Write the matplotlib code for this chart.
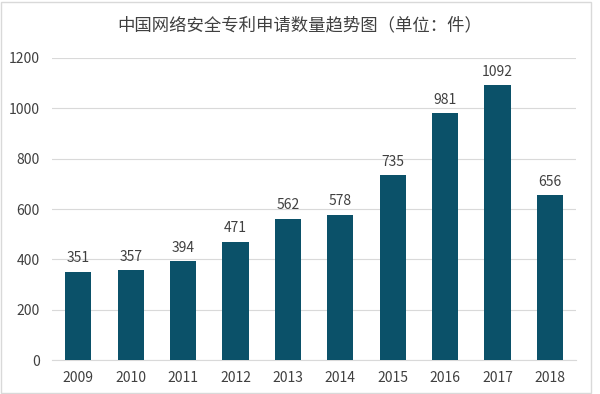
import matplotlib.pyplot as plt
from matplotlib.patches import Rectangle

plt.rcParams['font.family'] = ['Noto Sans CJK SC', 'DejaVu Sans']

years = ['2009', '2010', '2011', '2012', '2013', '2014', '2015', '2016', '2017', '2018']
counts = [351, 357, 394, 471, 562, 578, 735, 981, 1092, 656]

fig = plt.figure(figsize=(6, 3.94), dpi=100)
ax = fig.add_axes([0.087, 0.086, 0.873, 0.767])

bars = ax.bar(years, counts, width=0.5, color='#0b5169', zorder=3)
for b, v in zip(bars, counts):
    ax.text(b.get_x() + b.get_width() / 2, v + 25, str(v), ha='center', va='bottom',
            fontsize=10, color='#404040')

ax.set_ylim(0, 1200)
ax.set_yticks(range(0, 1201, 200))
ax.set_xlim(-0.5, 9.5)
ax.grid(axis='y', color='#d9d9d9', linewidth=0.8, zorder=0)
for s in ['top', 'right', 'left']:
    ax.spines[s].set_visible(False)
ax.spines['bottom'].set_color('#d9d9d9')
ax.tick_params(length=0, labelsize=10, colors='#404040')
ax.tick_params(axis='x', pad=8)
ax.tick_params(axis='y', pad=9)

fig.text(0.5, 0.935, '中国网络安全专利申请数量趋势图（单位：件）', ha='center', va='center',
         fontsize=12.5, color='#404040')
fig.patches.append(Rectangle((0.002, 0.002), 0.983, 0.994, transform=fig.transFigure,
                             fill=False, edgecolor='#d9d9d9', linewidth=1))

plt.savefig('out.png')
